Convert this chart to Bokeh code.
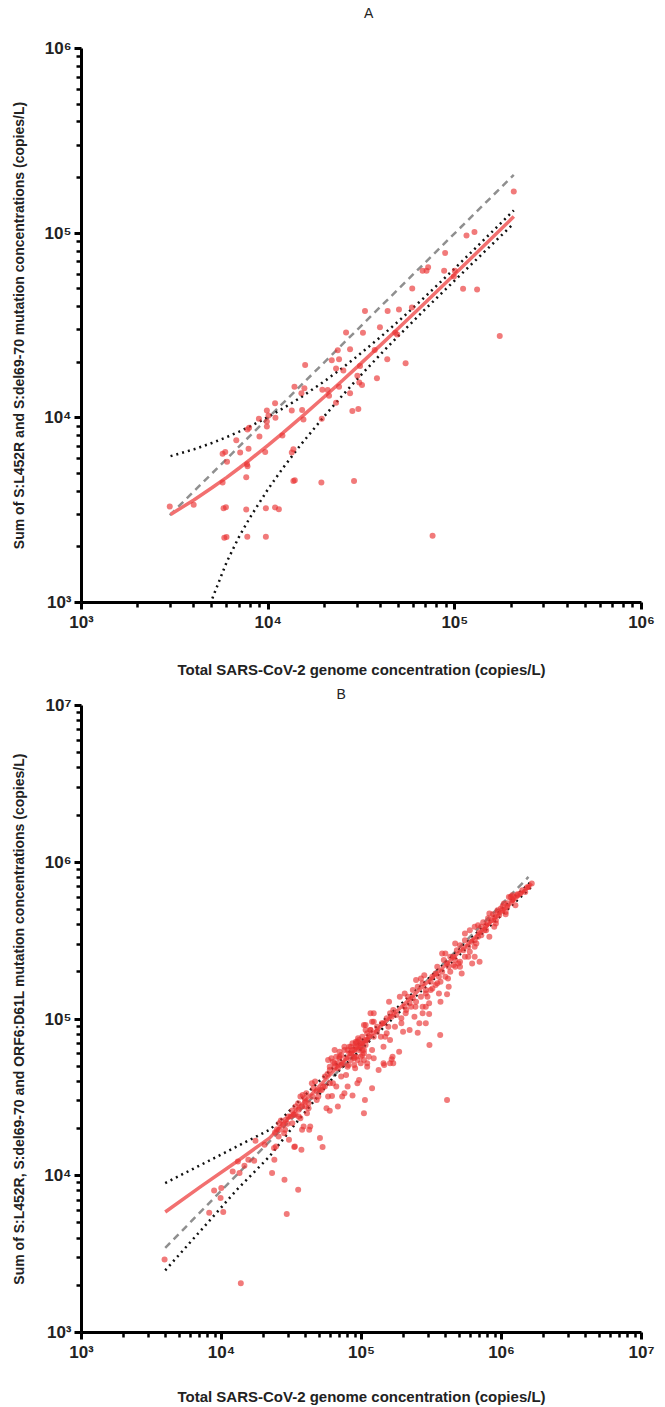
from bokeh.plotting import figure
from bokeh.models import Range1d, FixedTicker, CustomJSTickFormatter, Title, Label
from bokeh.layouts import column
from bokeh.embed import file_html
from bokeh.resources import INLINE

# ---------------- Panel A data ----------------
a_x = [2970, 3990, 5700, 5700, 5890, 6020, 5770, 5940, 5820, 5980, 6750, 7080, 7630, 7700, 7750,
       7630, 7730, 7750, 7910, 7850, 8980, 8920, 9640, 9720, 9720, 9840, 9840, 10040, 9840, 10890,
       10940, 10890, 11410, 11920, 13380, 13380, 13650, 13650, 13890, 13830, 15070, 15630, 15200,
       15450, 15780, 19370, 19280, 19510, 20840, 21190, 21910, 23100, 23970, 23590, 23100, 23970,
       25280, 26140, 27460, 27460, 28250, 30410, 28840, 30050,
       206900, 115500, 127400, 88720, 67190, 70560, 71940, 87650, 100000, 98840, 110700, 131600,
       59130, 58880, 50200, 43650, 33010, 32200, 39700, 37220, 43450, 47950, 49110, 54480, 38260,
       31050, 30770, 31830, 174000, 76000]
a_y = [3310, 3380, 4460, 6400, 6540, 5780, 3240, 3280, 2240, 2260, 7550, 6500, 4760, 5610, 5470,
       3190, 2270, 8650, 8830, 6810, 7930, 9880, 6540, 3240, 2270, 10950, 8980, 10290, 9550, 11990,
       10000, 3270, 3200, 8030, 10950, 6490, 6760, 4550, 4590, 14730, 13580, 14450, 11040,
       9790, 19350, 9880, 4460, 14190, 14150, 13180, 20500, 18500, 20750, 23210, 12080, 14730,
       18040, 28990, 23500, 13580, 10900, 11180, 4550, 16880,
       168200, 97200, 101600, 78050, 62500, 62500, 65430, 62500, 62500, 58210, 50000, 49550,
       50230, 39520, 38550, 37930, 37930, 28890, 30970, 23300, 20750, 28890, 28300, 19760, 16400,
       19100, 15560, 15040, 27700, 2300]

a_fit_x = [3000, 4000, 5000, 6000, 7000, 8000, 10000, 12000, 15000, 20000, 25000, 30000, 40000,
           50000, 70000, 100000, 140000, 207000]
a_fit_y = [3000, 3590, 4180, 4760, 5350, 5940, 7120, 8290, 10060, 13000, 15940, 18880, 24760,
           30640, 42400, 60040, 83560, 122950]
a_up_y = [6200, 6750, 7310, 7870, 8430, 8990, 10110, 11240, 12930, 15770, 18640, 21540, 27420,
          33410, 45690, 64540, 90010, 132950]
a_low_x = [4900, 5000, 6000, 7000, 8000, 10000, 12000, 15000, 20000, 25000, 30000, 40000, 50000,
           70000, 100000, 140000, 207000]
a_low_y = [980, 1040, 1660, 2280, 2890, 4120, 5350, 7180, 10220, 13230, 16220, 22100, 27860,
           39100, 55530, 77110, 112960]
a_diag_x = [2970, 206900]
a_diag_y = [2970, 206900]

# ---------------- Panel B data ----------------
b_x = [3920, 13740, 8170, 8860, 10290, 9850, 9960, 12020, 13090, 13450, 14580, 17120, 17480, 20300,
       22980, 23850, 23730, 28180, 35290, 29240, 33090, 37220, 50500, 52730,
       15550, 24490, 24110, 24900, 25840, 26560, 25590, 28010, 28460, 29580, 30340, 31180, 32050,
       32880, 33420, 33800, 35290, 35630, 36610, 37630, 38610, 36610, 38000, 39260, 40340, 39700,
       40800, 41860, 43020, 42330, 44200, 45360, 46600, 47900, 49140, 51900, 53260, 54730, 56240,
       59330, 57730, 61550, 57180, 59330, 64270, 67140, 69660, 71600, 62550, 66060, 67780, 72750,
       75500, 71600, 77600, 79600, 86270, 80510, 84080, 88650, 84080, 86270, 91130, 94540, 93480,
       96070, 90100, 104100, 105800, 109800, 104100, 107000, 112800, 104100, 116000, 119000, 119000,
       157300, 122300, 145200, 159900, 143600, 151400, 129000, 137500, 164100, 159900, 143600, 166700,
       64270, 69660, 75500, 81810, 93480, 98740, 60960, 71600, 91130, 101300, 109800, 122300, 143600,
       164100, 168600, 185700, 132500, 107000, 116000, 122300, 129000, 139700, 147600, 151400, 159900,
       168600, 177800, 155600, 173400, 192700, 198100, 220600, 252000, 203500, 220600, 232600, 242900,
       192700, 206800, 273200, 304200, 288000, 259000, 187800, 203500, 214600, 232600, 252000, 273200,
       245300, 265800, 280800, 288000, 296000, 320700, 304200, 288000, 366600, 408300, 347600, 357300,
       376700, 347600, 320700, 338200, 312100, 376700, 397400, 387100, 408300, 430600, 419700, 454900,
       466700, 479600, 505500, 454900, 466700, 492800, 505500, 415000, 534000, 578600, 610200, 617100,
       697300, 547900, 593800, 643400, 679600, 643400, 679600, 716700, 755600, 776600, 798000, 818900,
       841400, 887300, 961600, 1015000, 1100000, 1193000, 1293000, 887300, 912000, 988300, 1071000,
       1129000, 1193000, 661200, 643400, 547900,
       1558000, 1477000, 1363000, 1224000, 1042000, 937100, 818900, 716700, 578600, 1645000, 1161000,
       408300, 305700, 364800,
       79600, 84080, 88650, 93480, 98740, 101300, 107000, 109800, 98740, 93480, 88650, 104100, 112800,
       119000, 122300, 116000, 109800, 101300, 96070, 91130,
       59330, 62550, 66060, 69660, 73450, 77600, 81810, 86270, 91130, 96070, 101300, 107000, 79600,
       67780, 57730, 64270, 75500, 88650, 98740, 104100,
       208800, 226300, 245300, 265800, 288000, 312100, 338200, 366600, 397400, 430600, 466700, 505500,
       547900, 593800, 643400, 238900, 273200, 357300, 419700, 519600,
       740000, 802000, 869000, 942000, 1021000, 1106000, 1198000, 1299000, 1407000, 1525000, 776600,
       912000, 1071000, 1257000, 694000,
       25840, 27560, 28780, 30060, 32050, 33800, 35630, 37630, 39700, 41860, 44640, 47900, 50500,
       54730, 59330]
b_y = [2920, 2060, 5810, 8060, 5870, 7210, 8350, 10650, 12330, 10400, 11580, 12460, 16700, 15750,
       10400, 12640, 15010, 9430, 8140, 5700, 15230, 14640, 17380, 15230,
       12640, 15370, 18870, 19830, 21660, 22500, 17800, 18700, 19630, 21430, 16950, 23860, 26050,
       24460, 15370, 27620, 29040, 26320, 23300, 19630, 20600, 31990, 32790, 31240, 33620, 27620,
       25070, 26980, 20600, 19630, 38940, 36180, 39860, 30480, 31990, 35290, 37050, 42900, 26980,
       25940, 31990, 32310, 44620, 47320, 49660, 52220, 56190, 58970, 38940, 37050, 27620, 31990,
       33620, 42900, 43970, 37050, 32450, 50930, 54800, 57520, 66600, 69990, 71640, 75340, 38940,
       40880, 48520, 25070, 30480, 49660, 91550, 85070, 77900, 63450, 108700, 96100, 36180,
       128800, 108700, 50930, 52220, 93870, 81050, 89300, 77100, 103400, 73470, 66600, 57520,
       52220, 57520, 63450, 66600, 71640, 66600, 56190, 50930, 57520, 58970, 52220, 56190, 52220,
       55370, 52220, 61890, 47320, 91550, 85070, 96100, 82990, 93870, 77100, 101000, 108700,
       114100, 106000, 89300, 89300, 93870, 82990, 85070, 81780, 119700, 125900, 135400, 119700,
       101000, 108700, 108700, 107600, 93870, 93870, 138700, 145700, 138700, 152900, 160600, 168800,
       177100, 181600, 190500, 152900, 138700, 156800, 125900, 119700, 128800, 143600, 168800, 185900,
       200100, 215300, 185900, 195400, 172800, 262000, 262000, 237500, 226200, 249300, 215300, 220700,
       303400, 275000, 296000, 249300, 237500, 226200, 215300, 181600, 275000, 288600, 310700, 226200,
       231600, 351300, 368700, 387100, 396800, 318400, 334200, 342600, 368700, 396800, 406800, 334200,
       426900, 448100, 459400, 494500, 518900, 572500, 616100, 387100, 406800, 506900, 482300,
       600800, 616100, 303400, 249300, 318400,
       695900, 646800, 631500, 600800, 545600, 494500, 471100, 387100, 249300, 731400, 600800,
       30480, 68290, 79070,
       63450, 60450, 63450, 66600, 69990, 63450, 68290, 73470, 57520, 54800, 50930, 54800, 57520,
       63450, 77100, 85070, 81050, 77100, 73470, 69990,
       49660, 53450, 57520, 61890, 52220, 56190, 60450, 63450, 66600, 63450, 69990, 73470, 49660,
       48520, 54800, 63450, 66600, 56190, 52220, 60450,
       114100, 119700, 128800, 138700, 145700, 152900, 164600, 172800, 185900, 200100, 215300, 231600,
       249300, 268300, 288600, 103400, 119700, 145700, 160600, 195400,
       414700, 439700, 466200, 480000, 524300, 547900, 580800, 625200, 663100, 692900, 368700,
       426900, 466200, 531900, 358100,
       19630, 21130, 22730, 23860, 21660, 24460, 23860, 27620, 29720, 29040, 31990, 34430, 35290,
       37050, 38940]

b_fit_x = [3963, 7140, 12880, 22000, 33800, 67800, 273200, 1645000]
b_fit_y = [5870, 8550, 12330, 17380, 25940, 49660, 160800, 731400]
b_up_x = [3963, 7543, 12880, 22000, 25840, 33800, 67800, 273200, 1645000]
b_up_y = [8980, 12040, 15370, 19630, 22170, 28500, 52500, 167000, 760000]
b_low_x = [3963, 7543, 12880, 22000, 33800, 67800, 273200, 1645000]
b_low_y = [2490, 4750, 8140, 13270, 21500, 46000, 154000, 700000]
b_diag_x = [3963, 1558000]
b_diag_y = [3463, 805400]

a_label_y = "Sum of S:L452R and S:del69-70 mutation concentrations (copies/L)"
b_label_y = "Sum of S:L452R, S:del69-70 and ORF6:D61L mutation concentrations (copies/L)"
label_x = "Total SARS-CoV-2 genome concentration (copies/L)"

FONT = "Liberation Sans"
POINT = "#ea3232"
FIT = "#f27070"

sup_js = """
const sup = {'0':'\u2070','1':'\u00b9','2':'\u00b2','3':'\u00b3','4':'\u2074','5':'\u2075',
             '6':'\u2076','7':'\u2077','8':'\u2078','9':'\u2079','-':'\u207b'};
const e = Math.round(Math.log10(tick));
return '10' + String(e).split('').map(c => sup[c]).join('');
"""


def decade_ticks(lo, hi):
    major = [10.0 ** n for n in range(lo, hi + 1)]
    minor = [k * 10.0 ** n for n in range(lo, hi) for k in range(2, 10)]
    return FixedTicker(ticks=major, minor_ticks=minor)


def style_axis(ax, label, size, standoff):
    ax.axis_label = label
    ax.axis_label_text_font = FONT
    ax.axis_label_text_font_style = "bold"
    ax.axis_label_text_font_size = size
    ax.axis_label_text_color = "#222222"
    ax.axis_label_standoff = standoff
    ax.major_label_text_font = FONT
    ax.major_label_text_font_style = "bold"
    ax.major_label_text_font_size = "17px"
    ax.major_label_text_color = "#222222"
    ax.major_label_standoff = 3
    ax.axis_line_width = 3
    ax.axis_line_color = "black"
    ax.major_tick_line_width = 3
    ax.minor_tick_line_width = 2.5
    ax.major_tick_out = 7
    ax.major_tick_in = 0
    ax.minor_tick_out = 5
    ax.minor_tick_in = 0
    ax.formatter = CustomJSTickFormatter(code=sup_js)


def panel(xhi, yhi, height, top, bottom, right, ylabel, xstand, ystand):
    p = figure(width=665, height=height, x_axis_type="log", y_axis_type="log",
               x_range=Range1d(1e3, 10.0 ** xhi), y_range=Range1d(1e3, 10.0 ** yhi),
               output_backend="svg", toolbar_location=None,
               min_border_left=81, min_border_right=right, min_border_top=top,
               min_border_bottom=bottom)
    p.outline_line_color = None
    p.xgrid.visible = False
    p.ygrid.visible = False
    p.xaxis.ticker = decade_ticks(3, xhi)
    p.yaxis.ticker = decade_ticks(3, yhi)
    style_axis(p.xaxis[0], label_x, "15px", xstand)
    style_axis(p.yaxis[0], ylabel, "14px", ystand)
    return p


# title strip for panel A
ta = figure(width=665, height=24, x_range=Range1d(0, 665), y_range=Range1d(0, 24),
            output_backend="svg", toolbar_location=None, min_border=0,
            x_axis_location=None, y_axis_location=None)
ta.outline_line_color = None
ta.xgrid.visible = False
ta.ygrid.visible = False
ta.add_layout(Label(x=341, y=12, text="A", text_align="center", text_baseline="middle",
                    text_font=FONT, text_font_size="14px", text_color="#222222"))

pa = panel(6, 6, 656, 24, 75, 24, a_label_y, 26, 14)
pa.line(a_diag_x, a_diag_y, line_color="#8f8f8f", line_width=2.5, line_dash="7 5")
pa.line(a_fit_x, a_up_y, line_color="#111111", line_width=2.5, line_dash="2 4")
pa.line(a_low_x, a_low_y, line_color="#111111", line_width=2.5, line_dash="2 4")
pa.line(a_fit_x, a_fit_y, line_color=FIT, line_width=3.5)
pa.scatter(a_x, a_y, size=6, fill_color=POINT, fill_alpha=0.65, line_color=None)

pb = panel(7, 7, 727, 25, 74, 11, b_label_y, 23, 14)
pb.title = Title(text="B", align="left", text_font=FONT, text_font_style="normal",
                 text_font_size="14px", text_color="#222222", standoff=7, offset=255)
pb.line(b_diag_x, b_diag_y, line_color="#8f8f8f", line_width=2.5, line_dash="7 5")
pb.line(b_up_x, b_up_y, line_color="#111111", line_width=2.5, line_dash="2 4")
pb.line(b_low_x, b_low_y, line_color="#111111", line_width=2.5, line_dash="2 4")
pb.line(b_fit_x, b_fit_y, line_color=FIT, line_width=3.5)
pb.scatter(b_x, b_y, size=6, fill_color=POINT, fill_alpha=0.65, line_color=None)

layout = column(ta, pa, pb, spacing=0)
open("out.html", "w").write(file_html(layout, INLINE))
